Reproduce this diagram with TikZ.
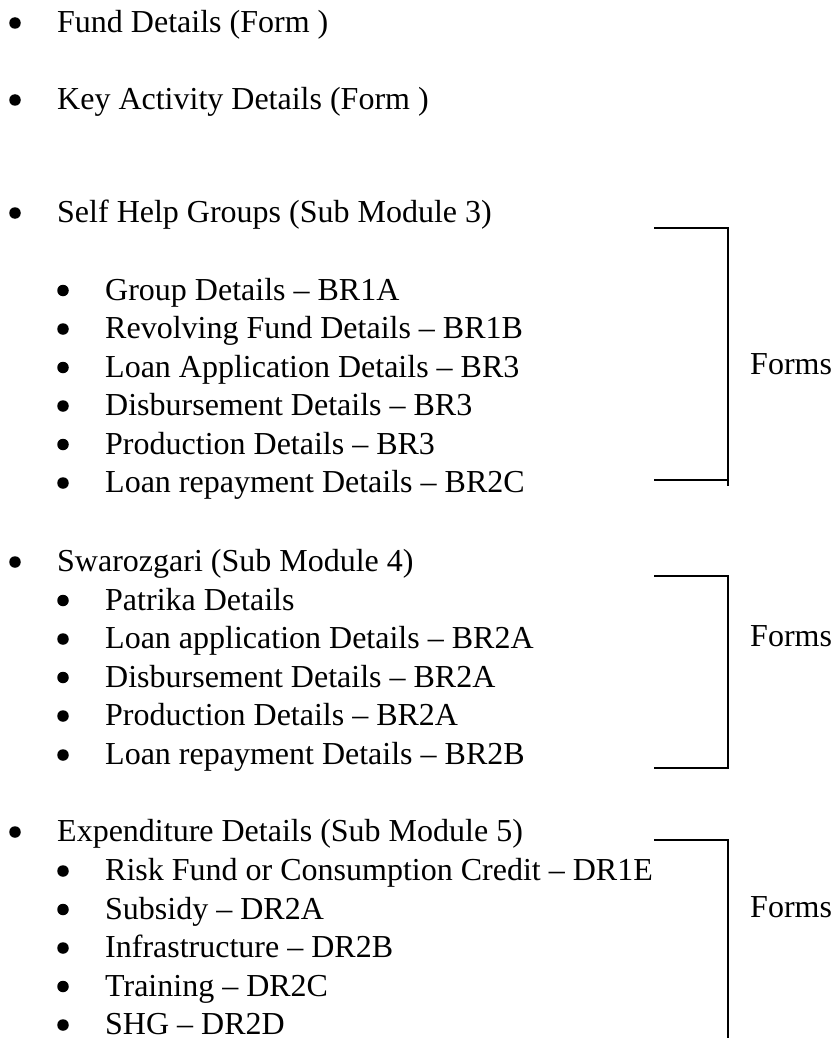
\documentclass[tikz,border=0pt]{standalone}
\usepackage{fontspec}
\setmainfont{Liberation Serif}
\newcommand\mytop[3]{%
  \node[dot] (#1b) at (15,{-#2}) {};
  \node[item] (#1) at (57,{-#2-9.5}) {#3};}
\newcommand\mysub[3]{%
  \node[dot] (#1b) at (63,{-#2}) {};
  \node[item] (#1) at (105,{-#2-9.5}) {#3};}
\begin{document}
\begin{tikzpicture}[x=1pt,y=1pt,
  item/.style={anchor=base west, inner sep=0pt, text depth=0pt, font=\fontsize{32}{38}\selectfont},
  dot/.style={circle, fill=black, draw=none, minimum size=11.5pt, inner sep=0pt},
  brk/.style={line width=1.8pt, line cap=rect}]
\useasboundingbox (0,0) rectangle (831,-1038);
% top-level items
\mytop{fund}{23}{Fund Details (Form )}
\mytop{key}{100}{Key Activity Details (Form )}
\mytop{shg}{213}{Self Help Groups (Sub Module 3)}
\mytop{swa}{562}{Swarozgari (Sub Module 4)}
\mytop{exp}{832}{Expenditure Details (Sub Module 5)}
% Self Help Groups sub items
\mysub{a1}{290.5}{Group Details – BR1A}
\mysub{a2}{329}{Revolving Fund Details – BR1B}
\mysub{a3}{367.5}{Loan Application Details – BR3}
\mysub{a4}{406}{Disbursement Details – BR3}
\mysub{a5}{444.5}{Production Details – BR3}
\mysub{a6}{483}{Loan repayment Details – BR2C}
% Swarozgari sub items
\mysub{b1}{600.5}{Patrika Details}
\mysub{b2}{639}{Loan application Details – BR2A}
\mysub{b3}{677.5}{Disbursement Details – BR2A}
\mysub{b4}{716}{Production Details – BR2A}
\mysub{b5}{755}{Loan repayment Details – BR2B}
% Expenditure sub items
\mysub{c1}{871}{Risk Fund or Consumption Credit – DR1E}
\mysub{c2}{909.5}{Subsidy – DR2A}
\mysub{c3}{948}{Infrastructure – DR2B}
\mysub{c4}{986.5}{Training – DR2C}
\mysub{c5}{1025}{SHG – DR2D}
% Forms labels
\node[item] (f1) at (750,{-365-9.5}) {Forms};
\node[item] (f2) at (750,{-637-9.5}) {Forms};
\node[item] (f3) at (750,{-908-9.5}) {Forms};
% brackets
\coordinate (p1a) at (655,-228);
\coordinate (p1b) at (728,-228);
\coordinate (p1c) at (728,-480);
\coordinate (p1d) at (655,-480);
\coordinate (p1e) at (728,-485);
\draw[brk] (p1a) -- (p1b) -- (p1c) -- (p1d);
\draw[brk] (p1c) -- (p1e);
\coordinate (p2a) at (655,-576);
\coordinate (p2b) at (728,-576);
\coordinate (p2c) at (728,-768);
\coordinate (p2d) at (655,-768);
\draw[brk] (p2a) -- (p2b) -- (p2c) -- (p2d);
\coordinate (p3a) at (655,-840);
\coordinate (p3b) at (728,-840);
\coordinate (p3c) at (728,-1038);
\draw[brk] (p3a) -- (p3b) -- (p3c);
\end{tikzpicture}
\end{document}
